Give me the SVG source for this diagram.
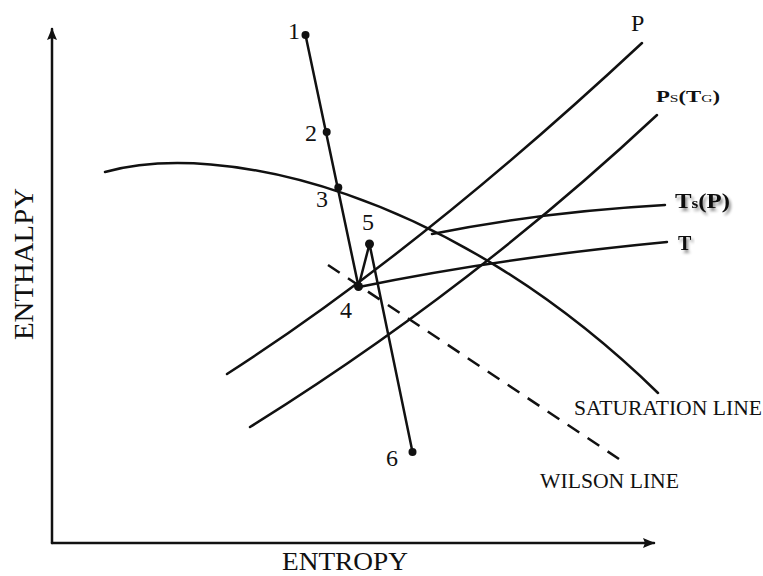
<svg xmlns="http://www.w3.org/2000/svg" width="763" height="576" viewBox="0 0 763 576">
<style>
.ln{fill:none;stroke:#111;stroke-width:2.5;stroke-linecap:round}
.dash{fill:none;stroke:#111;stroke-width:2.5;stroke-dasharray:14 10}
.t{font-family:"Liberation Serif","Times New Roman",serif;fill:#111}
.b{font-family:"Liberation Serif","Times New Roman",serif;font-weight:bold;fill:#111}
.dot{fill:#111}
</style>
<defs>
<marker id="ah" viewBox="0 0 12 10" refX="11" refY="5" markerWidth="12" markerHeight="10" markerUnits="userSpaceOnUse" orient="auto">
<path d="M0,0 L12,5 L0,10 L2,5 Z" fill="#111"/>
</marker>
<filter id="sh" x="-20%" y="-20%" width="140%" height="160%">
<feGaussianBlur in="SourceAlpha" stdDeviation="1.5"/>
<feOffset dx="2" dy="3" result="o"/>
<feComponentTransfer><feFuncA type="linear" slope="0.45"/></feComponentTransfer>
<feMerge><feMergeNode/><feMergeNode in="SourceGraphic"/></feMerge>
</filter>
</defs>
<rect width="763" height="576" fill="#fff"/>
<g id="axes">
<path class="ln" d="M52,543 L52,29" marker-end="url(#ah)"/>
<path class="ln" d="M52,543 L654,543" marker-end="url(#ah)"/>
<text class="t" font-size="27" transform="translate(33,340) rotate(-90)" textLength="152" lengthAdjust="spacingAndGlyphs">ENTHALPY</text>
<text class="t" font-size="26" x="282" y="570" textLength="126" lengthAdjust="spacingAndGlyphs">ENTROPY</text>
</g>
<g id="connectors">
<path id="saturation-line" class="ln" d="M105,172 C220,140 450,190 658,393"/>
<path id="wilson-line" class="dash" d="M328,265 L619,459"/>
<path id="isobar-P" class="ln" d="M227,374 Q420,250 642,43"/>
<path id="isobar-PsTG" class="ln" d="M250,427 Q470,290 657,115"/>
<path id="isotherm-TsP" class="ln" d="M432,234 Q540,212 665,205"/>
<path id="isotherm-T" class="ln" d="M359,287 Q500,258 667,242"/>
<path id="process" class="ln" d="M305.5,35 L358.5,286.5 L369.5,244 L412.5,452"/>
</g>
<g id="node-1"><circle class="dot" cx="305.5" cy="35" r="4"/><text class="t" font-size="24" x="288" y="39">1</text></g>
<g id="node-2"><circle class="dot" cx="326.7" cy="132" r="4"/><text class="t" font-size="24" x="305" y="141">2</text></g>
<g id="node-3"><circle class="dot" cx="338.3" cy="187.5" r="4"/><text class="t" font-size="24" x="316" y="207">3</text></g>
<g id="node-4"><circle class="dot" cx="358.5" cy="286.5" r="4.5"/><text class="t" font-size="24" x="340" y="318">4</text></g>
<g id="node-5"><circle class="dot" cx="369.5" cy="244" r="4.5"/><text class="t" font-size="24" x="362" y="230">5</text></g>
<g id="node-6"><circle class="dot" cx="412.5" cy="452" r="4"/><text class="t" font-size="24" x="386" y="466">6</text></g>
<g id="label-P"><text class="t" font-size="24" x="631" y="31">P</text></g>
<g id="label-PsTG"><text class="b" font-size="16" x="656" y="102" textLength="64" lengthAdjust="spacingAndGlyphs">P<tspan font-size="11" font-weight="normal">S</tspan>(T<tspan font-size="11" font-weight="normal">G</tspan>)</text></g>
<g id="label-TsP" filter="url(#sh)"><text class="b" font-size="20" x="675" y="208" textLength="55" lengthAdjust="spacingAndGlyphs">T<tspan font-size="14">s</tspan>(P)</text></g>
<g id="label-T" filter="url(#sh)"><text class="b" font-size="20" x="678" y="250">T</text></g>
<g id="label-saturation"><text class="t" font-size="21" x="574" y="415" textLength="188" lengthAdjust="spacingAndGlyphs">SATURATION LINE</text></g>
<g id="label-wilson"><text class="t" font-size="21" x="540" y="488" textLength="139" lengthAdjust="spacingAndGlyphs">WILSON LINE</text></g>
</svg>
